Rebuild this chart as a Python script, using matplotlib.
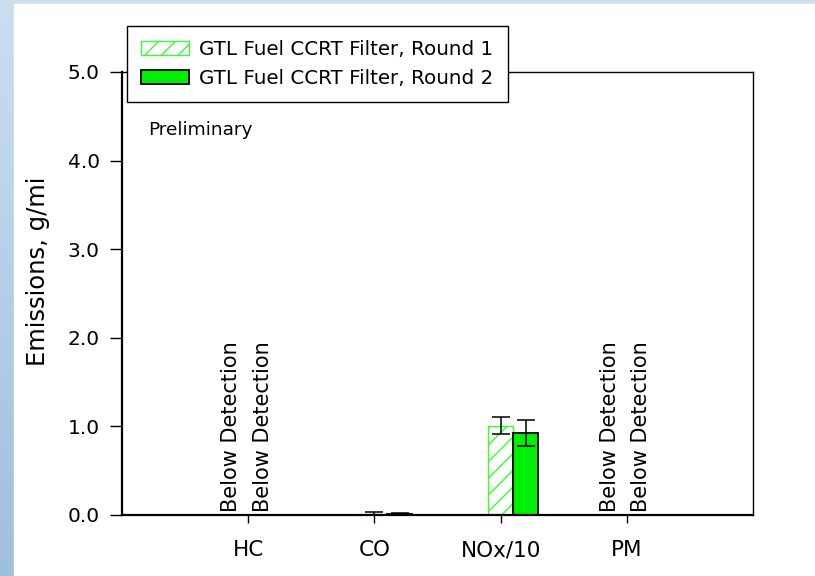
import numpy as np
import matplotlib
matplotlib.use("Agg")
import matplotlib.pyplot as plt
from matplotlib.patches import Rectangle

plt.rcParams['font.family'] = ['DejaVu Sans']
plt.rcParams['hatch.linewidth'] = 1.0

categories = ["HC", "CO", "NOx/10", "PM"]
round1_vals = [0.0, 0.01, 1.01, 0.0]
round1_err = [0.0, 0.025, 0.095, 0.0]
round2_vals = [0.0, 0.008, 0.925, 0.0]
round2_err = [0.0, 0.01, 0.15, 0.0]
below_detection = [True, False, False, True]
yticks = [0.0, 1.0, 2.0, 3.0, 4.0, 5.0]
label1 = "GTL Fuel CCRT Filter, Round 1"
label2 = "GTL Fuel CCRT Filter, Round 2"

W, H = 815, 576
fig = plt.figure(figsize=(W / 100, H / 100), dpi=100)

# background gradient strip (left and top)
bg = fig.add_axes([0, 0, 1, 1], zorder=-10)
grad = np.linspace(0, 1, 256).reshape(-1, 1)
c_top = np.array([0.80, 0.87, 0.94])
c_bot = np.array([0.62, 0.75, 0.87])
img = c_top[None, None, :] * (1 - grad[:, :, None]) + c_bot[None, None, :] * grad[:, :, None]
bg.imshow(img, aspect='auto', extent=[0, 1, 0, 1])
bg.add_patch(Rectangle((14 / W, 0), 1, 1 - 4 / H, transform=bg.transAxes, color='white', zorder=5))
bg.set_axis_off()

ax = fig.add_axes([122 / W, 1 - 515 / H, (753 - 122) / W, (515 - 72) / H])
x = np.arange(1, len(categories) + 1)
bw = 0.2
g1 = '#33ff33'
g2 = '#00ee00'

b1 = ax.bar(x, round1_vals, width=bw, facecolor='white', edgecolor=g1, hatch='//',
            linewidth=1.0, label=label1, zorder=2)
b2 = ax.bar(x + bw, round2_vals, width=bw, facecolor=g2, edgecolor='black',
            linewidth=1.3, label=label2, zorder=2)
for xi, v, e in zip(x, round1_vals, round1_err):
    if e > 0:
        ax.errorbar(xi, v, yerr=e, fmt='none', ecolor='black', elinewidth=1.1, capsize=6.5, capthick=1.1, zorder=3)
for xi, v, e in zip(x + bw, round2_vals, round2_err):
    if e > 0:
        ax.errorbar(xi, v, yerr=e, fmt='none', ecolor='black', elinewidth=1.1, capsize=6.5, capthick=1.1, zorder=3)

for xi, bd in zip(x, below_detection):
    if bd:
        for dx in (-0.135, 0.115):
            ax.text(xi + dx, 0.03, "Below Detection", rotation=90, ha='center', va='bottom', fontsize=15)

ax.text(0.041, 0.858, "Preliminary", transform=ax.transAxes, fontsize=13.3, ha='left', va='baseline')

ax.set_xlim(0, 5.0)
ax.set_ylim(0, 5)
ax.set_xticks(x)
ax.set_xticklabels(categories, fontsize=15.5)
ax.set_yticks(yticks)
ax.set_yticklabels([f"{t:.1f}" for t in yticks], fontsize=14.5)
ax.tick_params(axis='y', direction='out', length=9, width=1.0, pad=7)
ax.tick_params(axis='x', direction='out', length=6, width=1.0, pad=12)
ax.set_ylabel("Emissions, g/mi", fontsize=17.5)
ax.yaxis.set_label_coords(-0.114, 0.55)
for s in ['left', 'bottom']:
    ax.spines[s].set_linewidth(1.6)
for s in ['top', 'right']:
    ax.spines[s].set_linewidth(1.0)

leg = fig.legend(handles=[b1, b2], loc='upper left', bbox_to_anchor=(127 / W, 1 - 26 / H),
                 borderaxespad=0, fontsize=14.3, frameon=True, fancybox=False, framealpha=1,
                 edgecolor='black', handlelength=2.4, handleheight=0.67, handletextpad=0.55,
                 labelspacing=0.5, borderpad=0.7)
leg.get_frame().set_linewidth(1.0)

fig.savefig("out.png", dpi=100)
